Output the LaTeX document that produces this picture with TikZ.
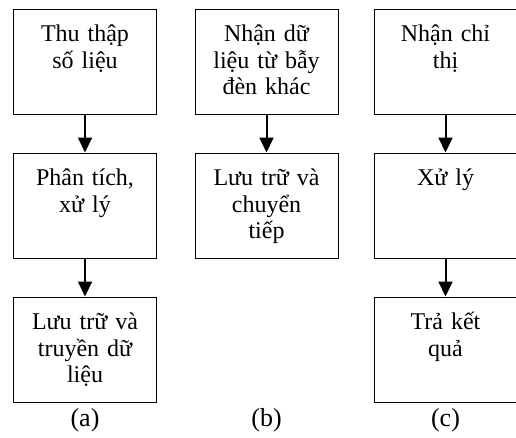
\documentclass[tikz,border=0pt]{standalone}
\usepackage{fontspec}
\setmainfont{Liberation Serif}
\usetikzlibrary{arrows.meta}
\tikzset{
  box/.style={draw=black, line width=1pt, inner xsep=0pt, inner ysep=0pt,
    text width=143pt, align=center, text height=32.5pt, text depth=72.5pt,
    font=\fontsize{24}{26.5}\selectfont},
  flow/.style={line width=2pt, -{Triangle[width=14pt,length=15pt]}},
  sublabel/.style={anchor=base, font=\fontsize{26}{28}\selectfont}
}
\begin{document}
\begin{tikzpicture}[x=1pt,y=1pt]
\useasboundingbox (0,0) rectangle (516,-437);
% column a
\node[box] (a1) at (85,-61.5) {Thu thập\\số liệu};
\node[box] (a2) at (85,-205.5) {Phân tích,\\xử lý};
\node[box] (a3) at (85,-349.5) {Lưu trữ và\\truyền dữ\\liệu};
% column b
\node[box] (b1) at (266.5,-61.5) {Nhận dữ\\liệu từ bẫy\\đèn khác};
\node[box] (b2) at (266.5,-205.5) {Lưu trữ và\\chuyển\\tiếp};
% column c
\node[box] (c1) at (445.5,-61.5) {Nhận chỉ\\thị};
\node[box] (c2) at (445.5,-205.5) {Xử lý};
\node[box] (c3) at (445.5,-349.5) {Trả kết\\quả};
% arrows
\draw[flow] (a1.south) -- (a2.north);
\draw[flow] (a2.south) -- (a3.north);
\draw[flow] (b1.south) -- (b2.north);
\draw[flow] (c1.south) -- (c2.north);
\draw[flow] (c2.south) -- (c3.north);
% captions
\node[sublabel] (la) at (85,-426) {(a)};
\node[sublabel] (lb) at (266.5,-426) {(b)};
\node[sublabel] (lc) at (445.5,-426) {(c)};
\end{tikzpicture}
\end{document}
